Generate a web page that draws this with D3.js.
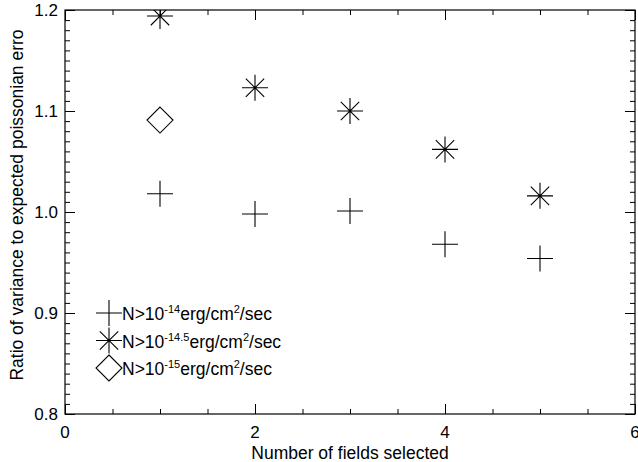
<!DOCTYPE html>
<html>
<head>
<meta charset="utf-8">
<script src="https://cdn.jsdelivr.net/npm/d3@7"></script>
<style>
  body { margin: 0; background: #fff; }
  text { font-family: "Liberation Sans", Arial, Helvetica, sans-serif; fill: #000; }
  .axis path, .axis line { stroke: #000; }
</style>
</head>
<body>
<div class="chart"></div>
<script>
// data
const fields = [1, 2, 3, 4, 5];
const ratio14 = [1.018, 0.998, 1.001, 0.968, 0.954];
const ratio145 = [1.194, 1.123, 1.100, 1.062, 1.016];
const fields15 = [1];
const ratio15 = [1.091];
const xMajor = [0, 2, 4, 6];
const yMajor = [0.8, 0.9, 1.0, 1.1, 1.2];
const legendLabels = [
    ["N>10", "-14", "erg/cm", "2", "/sec"],
    ["N>10", "-14.5", "erg/cm", "2", "/sec"],
    ["N>10", "-15", "erg/cm", "2", "/sec"]
];

const margin = ({top: 10, right: 3, bottom: 48, left: 65});
const width = 638 - margin.left - margin.right;
const height = 462 - margin.top - margin.bottom;

const xScale = d3.scaleLinear().domain([0, 6]).range([0, width]);
const yScale = d3.scaleLinear().domain([0.8, 1.2]).range([height, 0]);

const svg = d3.select(".chart").append("svg")
    .attr("width", 638)
    .attr("height", 462)
    .append("g")
    .attr("transform", "translate(" + margin.left + "," + margin.top + ")");

svg.append("clipPath").attr("id", "clip")
    .append("rect").attr("width", width).attr("height", height);

// minor ticks
const xMinor = d3.range(0, 6.01, 0.5);
const yMinor = d3.range(0.8, 1.2001, 0.01);

function addAxis(axis, tr) {
    svg.append("g").attr("class", "axis")
        .attr("transform", tr)
        .call(axis)
        .call(g => g.select(".domain").remove());
}

addAxis(d3.axisBottom(xScale).tickValues(xMinor).tickSize(-5).tickFormat(""), `translate(0,${height})`);
addAxis(d3.axisBottom(xScale).tickValues(xMajor).tickSize(-10).tickFormat(""), `translate(0,${height})`);
addAxis(d3.axisTop(xScale).tickValues(xMinor).tickSize(-5).tickFormat(""), "translate(0,0)");
addAxis(d3.axisTop(xScale).tickValues(xMajor).tickSize(-10).tickFormat(""), "translate(0,0)");
addAxis(d3.axisLeft(yScale).tickValues(yMinor).tickSize(-5).tickFormat(""), "translate(0,0)");
addAxis(d3.axisLeft(yScale).tickValues(yMajor).tickSize(-10).tickFormat(""), "translate(0,0)");
addAxis(d3.axisRight(yScale).tickValues(yMinor).tickSize(-5).tickFormat(""), `translate(${width},0)`);
addAxis(d3.axisRight(yScale).tickValues(yMajor).tickSize(-10).tickFormat(""), `translate(${width},0)`);

svg.selectAll(".axis line").attr("stroke-width", 1);

// frame
svg.append("rect")
    .attr("width", width).attr("height", height)
    .attr("fill", "none").attr("stroke", "#000").attr("stroke-width", 1.2);

// tick labels
svg.append("g").selectAll("text")
    .data(xMajor).enter().append("text")
    .attr("x", d => xScale(d))
    .attr("y", height + 24)
    .attr("text-anchor", "middle")
    .style("font-size", "17px")
    .text(d => d);

svg.append("g").selectAll("text")
    .data(yMajor).enter().append("text")
    .attr("x", -7)
    .attr("y", d => yScale(d) + 6)
    .attr("text-anchor", "end")
    .style("font-size", "17px")
    .text(d => d3.format(".1f")(d));

svg.append("text")
    .attr("x", width / 2)
    .attr("y", height + 45)
    .attr("text-anchor", "middle")
    .style("font-size", "17.5px")
    .text("Number of fields selected");

svg.append("text")
    .attr("transform", `translate(-42,${height / 2 - 7}) rotate(-90)`)
    .attr("text-anchor", "middle")
    .style("font-size", "17.5px")
    .text("Ratio of variance to expected poissonian erro");

// marker shapes
const s = 13;
function plusPath(r) { return `M${-r},0H${r}M0,${-r}V${r}`; }
function starPath(r) {
    const d = r * Math.SQRT1_2;
    return plusPath(r) + `M${-d},${-d}L${d},${d}M${-d},${d}L${d},${-d}`;
}
function diamondPath(r) { return `M0,${-r}L${r},0L0,${r}L${-r},0Z`; }

const marks = svg.append("g").attr("clip-path", "url(#clip)");

marks.selectAll(".p14").data(fields).enter().append("path")
    .attr("transform", (d, i) => `translate(${xScale(d)},${yScale(ratio14[i])})`)
    .attr("d", plusPath(s))
    .attr("fill", "none").attr("stroke", "#000").attr("stroke-width", 1.1);

marks.selectAll(".p145").data(fields).enter().append("path")
    .attr("transform", (d, i) => `translate(${xScale(d)},${yScale(ratio145[i])})`)
    .attr("d", starPath(s))
    .attr("fill", "none").attr("stroke", "#000").attr("stroke-width", 1.1);

marks.selectAll(".p15").data(fields15).enter().append("path")
    .attr("transform", (d, i) => `translate(${xScale(d)},${yScale(ratio15[i])})`)
    .attr("d", diamondPath(s))
    .attr("fill", "none").attr("stroke", "#000").attr("stroke-width", 1.1);

// legend
const legendPaths = [plusPath(s), starPath(s), diamondPath(s)];
const legend = svg.append("g").attr("transform", "translate(44,303)");
legendLabels.forEach((lab, i) => {
    const row = legend.append("g").attr("transform", `translate(0,${i * 27.5})`);
    row.append("path").attr("d", legendPaths[i])
        .attr("fill", "none").attr("stroke", "#000").attr("stroke-width", 1.1);
    const t = row.append("text").attr("x", 13).attr("y", 7).style("font-size", "17.5px");
    t.append("tspan").text(lab[0]);
    t.append("tspan").attr("dy", -7).style("font-size", "11px").text(lab[1]);
    t.append("tspan").attr("dy", 7).text(lab[2]);
    t.append("tspan").attr("dy", -7).style("font-size", "11px").text(lab[3]);
    t.append("tspan").attr("dy", 7).text(lab[4]);
});
</script>
</body>
</html>
